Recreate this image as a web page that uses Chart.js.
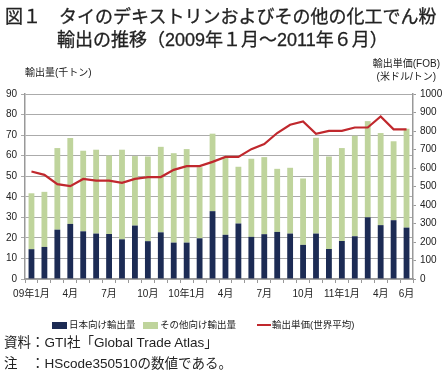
<!DOCTYPE html>
<html><head><meta charset="utf-8">
<script src="https://cdn.jsdelivr.net/npm/chart.js@4"></script>
<style>
body{margin:0;background:#fff;width:446px;height:381px;overflow:hidden;position:relative;font-family:"Liberation Sans","Noto Sans CJK JP",sans-serif;color:#222}
#wrap{position:absolute;left:0;top:0;width:446px;height:381px}
.t{position:absolute;white-space:nowrap;line-height:1}
.box{display:inline-block;width:15px;height:7px;vertical-align:middle;margin-right:2px}
.ln{display:inline-block;width:14px;height:2px;background:#C0282D;vertical-align:middle;margin-right:1px}
.ttl{font-size:18px;-webkit-text-stroke:0.3px #222}
</style></head><body>
<div id="wrap"><canvas id="c" width="446" height="381"></canvas></div>
<div class="t ttl" style="left:5px;top:8px">図１　タイのデキストリンおよびその他の化工でん粉</div>
<div class="t ttl" style="left:57px;top:31px">輸出の推移（2009年１月～2011年６月）</div>
<div class="t" style="left:25px;top:68px;font-size:10px">輸出量(千トン)</div>
<div class="t" style="right:6px;top:59px;font-size:10px">輸出単価(FOB)</div>
<div class="t" style="right:10px;top:72px;font-size:10px">(米ドル/トン)</div>
<div class="t" style="left:52px;top:320px;font-size:9.5px"><span class="box" style="background:#1C2B54"></span>日本向け輸出量</div>
<div class="t" style="left:143px;top:320px;font-size:9.5px"><span class="box" style="background:#BFD49C"></span>その他向け輸出量</div>
<div class="t" style="left:257px;top:320px;font-size:9.5px"><span class="ln"></span>輸出単価(世界平均)</div>
<div class="t" style="left:4px;top:336px;font-size:13.5px">資料：GTI社「Global Trade Atlas」</div>
<div class="t" style="left:4px;top:357px;font-size:13.5px">注　：HScode350510の数値である。</div>
<script>
const months = ['2009-01','2009-02','2009-03','2009-04','2009-05','2009-06','2009-07','2009-08','2009-09','2009-10','2009-11','2009-12',
  '2010-01','2010-02','2010-03','2010-04','2010-05','2010-06','2010-07','2010-08','2010-09','2010-10','2010-11','2010-12',
  '2011-01','2011-02','2011-03','2011-04','2011-05','2011-06'];
const tickLabels = ['09年1月','','','4月','','','7月','','','10月','','','10年1月','','','4月','','','7月','','','10月','','','11年1月','','','4月','','6月'];
const japanExports = [14.5,15.6,24.0,26.8,23.2,22.1,21.9,19.3,26.0,18.4,22.7,17.7,17.7,19.8,33.0,21.5,27.0,20.5,21.8,22.9,22.1,16.6,22.1,14.6,18.5,20.8,30.0,26.2,28.6,25.0];
const otherExports = [27.2,26.8,39.7,41.8,39.2,40.8,38.2,43.6,33.8,41.2,41.6,43.5,45.5,34.6,37.7,37.4,27.6,38.0,37.5,30.7,32.0,32.3,46.6,45.0,45.2,48.9,46.8,44.8,38.4,48.1];
const unitPrice = [581,563,513,502,541,532,532,520,541,551,551,590,610,610,633,660,660,702,729,789,834,852,785,801,801,819,819,879,809,809];

const FONT = '"Liberation Sans","Noto Sans CJK JP",sans-serif';
new Chart(document.getElementById('c'), {
  data: {
    labels: months,
    datasets: [
      {type:'line', label:'輸出単価(世界平均)', data:unitPrice, yAxisID:'y1', borderColor:'#C0282D', borderWidth:2.2, pointRadius:0, tension:0, order:0},
      {type:'bar', label:'日本向け輸出量', data:japanExports, yAxisID:'y', backgroundColor:'#1C2B54', barPercentage:0.45, categoryPercentage:1, order:1},
      {type:'bar', label:'その他向け輸出量', data:otherExports, yAxisID:'y', backgroundColor:'#BFD49C', barPercentage:0.45, categoryPercentage:1, order:2}
    ]
  },
  options: {
    responsive:false, animation:false,
    layout:{padding:{top:94, bottom:82, left:0, right:0}},
    plugins:{legend:{display:false}, tooltip:{enabled:false}},
    scales:{
      x:{stacked:true, grid:{display:true, drawOnChartArea:false, offset:true, tickLength:4, color:'#999'},
        border:{color:'#999', width:1.5},
        ticks:{autoSkip:false, maxRotation:0, minRotation:0, padding:5, color:'#222', font:{size:10, family:FONT}, callback:(v,i)=>tickLabels[i]},
        afterFit:s=>{s.height=20;}},
      y:{stacked:true, min:0, max:90, position:'left',
        ticks:{stepSize:10, padding:4, color:'#222', font:{size:10, family:FONT}, callback:v=>String(v)},
        grid:{color:'#ABABAB', tickLength:4},
        border:{color:'#999', width:1.5},
        afterFit:s=>{s.width=25;}},
      y1:{min:0, max:1000, position:'right',
        ticks:{stepSize:100, padding:4, color:'#222', font:{size:10, family:FONT}, callback:v=>String(v)},
        grid:{drawOnChartArea:false, tickLength:3, color:'#999'},
        border:{color:'#999', width:1.5},
        afterFit:s=>{s.width=33;}}
    }
  }
});
</script>
</body></html>
